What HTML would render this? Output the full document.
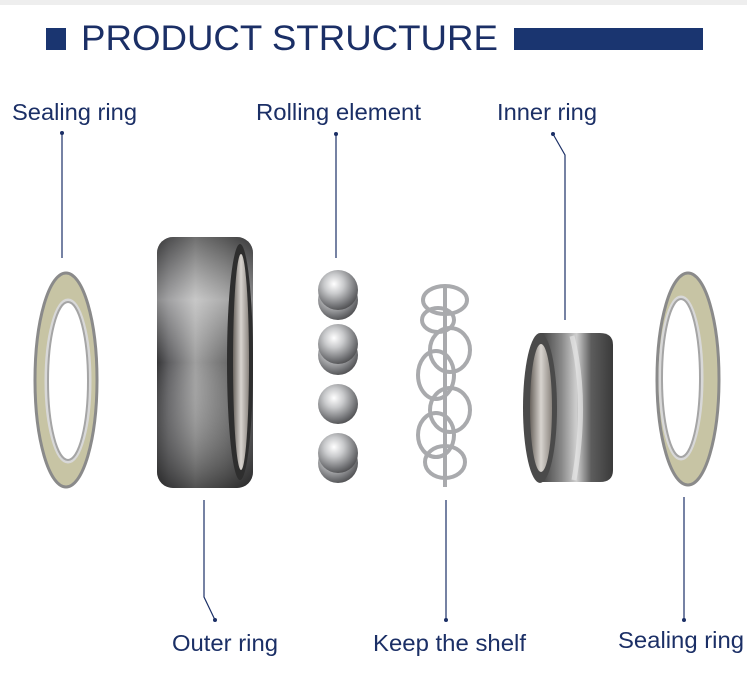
<!DOCTYPE html>
<html><head><meta charset="utf-8"><style>
html,body{margin:0;padding:0;background:#fff}
svg{display:block}
text{font-family:"Liberation Sans",Arial,sans-serif;fill:#1b2f66}
</style></head><body>
<svg width="747" height="685" viewBox="0 0 747 685" xmlns="http://www.w3.org/2000/svg">
<defs>
<linearGradient id="met" x1="0" y1="0" x2="1" y2="0">
<stop offset="0" stop-color="#2a2a2c"/><stop offset="0.12" stop-color="#555558"/><stop offset="0.4" stop-color="#9a9a9a"/><stop offset="0.7" stop-color="#6a6a6a"/><stop offset="1" stop-color="#2e2e30"/></linearGradient>
<linearGradient id="metv" x1="0" y1="0" x2="0" y2="1">
<stop offset="0" stop-color="#444" stop-opacity="0.5"/><stop offset="0.25" stop-color="#fff" stop-opacity="0.45"/><stop offset="0.5" stop-color="#fff" stop-opacity="0.05"/><stop offset="1" stop-color="#222" stop-opacity="0.6"/></linearGradient>
<radialGradient id="ball" cx="0.4" cy="0.35" r="0.7">
<stop offset="0" stop-color="#ffffff"/><stop offset="0.35" stop-color="#c9cacc"/><stop offset="0.8" stop-color="#6f7073"/><stop offset="1" stop-color="#4a4a4c"/></radialGradient>
<linearGradient id="inner" x1="0" y1="0" x2="1" y2="0">
<stop offset="0" stop-color="#3e3e3e"/><stop offset="0.3" stop-color="#8a8a8a"/><stop offset="0.5" stop-color="#cfcfcf"/><stop offset="0.7" stop-color="#5d5d5d"/><stop offset="1" stop-color="#3a3a3a"/></linearGradient>
<linearGradient id="bore" x1="0" y1="0" x2="1" y2="0">
<stop offset="0" stop-color="#6a645e"/><stop offset="0.5" stop-color="#d8d4cf"/><stop offset="1" stop-color="#8a847e"/></linearGradient>
</defs>
<rect x="0" y="0" width="747" height="5" fill="#eeeeee"/>
<rect x="46" y="28" width="20" height="22" fill="#1a3570"/>
<text x="81" y="50" font-size="35" textLength="417" lengthAdjust="spacingAndGlyphs">PRODUCT  STRUCTURE</text>
<rect x="514" y="28" width="189" height="22" fill="#1a3570"/>
<text x="12" y="120" font-size="23" textLength="125" lengthAdjust="spacingAndGlyphs">Sealing ring</text>
<text x="256" y="120" font-size="23" textLength="165" lengthAdjust="spacingAndGlyphs">Rolling element</text>
<text x="497" y="120" font-size="23" textLength="100" lengthAdjust="spacingAndGlyphs">Inner ring</text>
<text x="172" y="651" font-size="23" textLength="106" lengthAdjust="spacingAndGlyphs">Outer ring</text>
<text x="373" y="651" font-size="23" textLength="153" lengthAdjust="spacingAndGlyphs">Keep the shelf</text>
<text x="618" y="648" font-size="23" textLength="126" lengthAdjust="spacingAndGlyphs">Sealing ring</text>
<g stroke="#1b2f66" stroke-width="1.2" fill="none">
<line x1="62" y1="133" x2="62" y2="258"/>
<line x1="336" y1="134" x2="336" y2="258"/>
<polyline points="553,134 565,155 565,320"/>
<polyline points="204,500 204,597 215,620"/>
<line x1="446" y1="500" x2="446" y2="620"/>
<line x1="684" y1="497" x2="684" y2="620"/>
</g>
<g fill="#1b2f66">
<circle cx="62" cy="133" r="2"/><circle cx="336" cy="134" r="2"/><circle cx="553" cy="134" r="2"/>
<circle cx="215" cy="620" r="2"/><circle cx="446" cy="620" r="2"/><circle cx="684" cy="620" r="2"/>
</g>
<ellipse cx="66" cy="380" rx="31" ry="107" fill="#c7c4a4" stroke="#8a8a8a" stroke-width="3"/>
<ellipse cx="68" cy="381" rx="22" ry="81" fill="none" stroke="#d8d8d8" stroke-width="3"/>
<ellipse cx="68" cy="381" rx="20" ry="79" fill="#fff" stroke="#a5a5a5" stroke-width="2"/>
<rect x="157" y="237" width="96" height="251" rx="16" fill="url(#met)"/>
<rect x="157" y="237" width="96" height="251" rx="16" fill="url(#metv)"/>
<ellipse cx="240" cy="362" rx="13" ry="118" fill="#2e2e2e"/>
<ellipse cx="241" cy="362" rx="8" ry="108" fill="url(#bore)"/>
<circle cx="338" cy="300" r="20" fill="url(#ball)"/>
<circle cx="338" cy="290" r="20" fill="url(#ball)"/>
<circle cx="338" cy="355" r="20" fill="url(#ball)"/>
<circle cx="338" cy="344" r="20" fill="url(#ball)"/>
<circle cx="338" cy="404" r="20" fill="url(#ball)"/>
<circle cx="338" cy="463" r="20" fill="url(#ball)"/>
<circle cx="338" cy="453" r="20" fill="url(#ball)"/>
<g fill="none" stroke="#a9aaad" stroke-width="4">
<ellipse cx="445" cy="300" rx="22" ry="14"/>
<ellipse cx="438" cy="320" rx="16" ry="12"/>
<ellipse cx="450" cy="350" rx="20" ry="22"/>
<ellipse cx="436" cy="375" rx="18" ry="24"/>
<ellipse cx="450" cy="410" rx="20" ry="22"/>
<ellipse cx="436" cy="435" rx="18" ry="22"/>
<ellipse cx="445" cy="462" rx="20" ry="16"/>
<line x1="445" y1="285" x2="445" y2="487"/>
</g>
<path d="M540,333 L600,333 Q613,333 613,345 L613,470 Q613,482 600,482 L540,482 Z" fill="url(#inner)"/>
<path d="M572,336 Q588,400 574,480" stroke="#e6e6e6" stroke-width="5" fill="none" opacity="0.7"/>
<ellipse cx="540" cy="408" rx="17" ry="75" fill="#4a4a4a"/>
<ellipse cx="541" cy="408" rx="11" ry="64" fill="url(#bore)"/>
<ellipse cx="688" cy="379" rx="31" ry="106" fill="#c7c4a4" stroke="#8a8a8a" stroke-width="3"/>
<ellipse cx="681" cy="378" rx="21" ry="81" fill="none" stroke="#d8d8d8" stroke-width="3"/>
<ellipse cx="681" cy="378" rx="19" ry="79" fill="#fff" stroke="#a5a5a5" stroke-width="2"/>
</svg>
</body></html>
